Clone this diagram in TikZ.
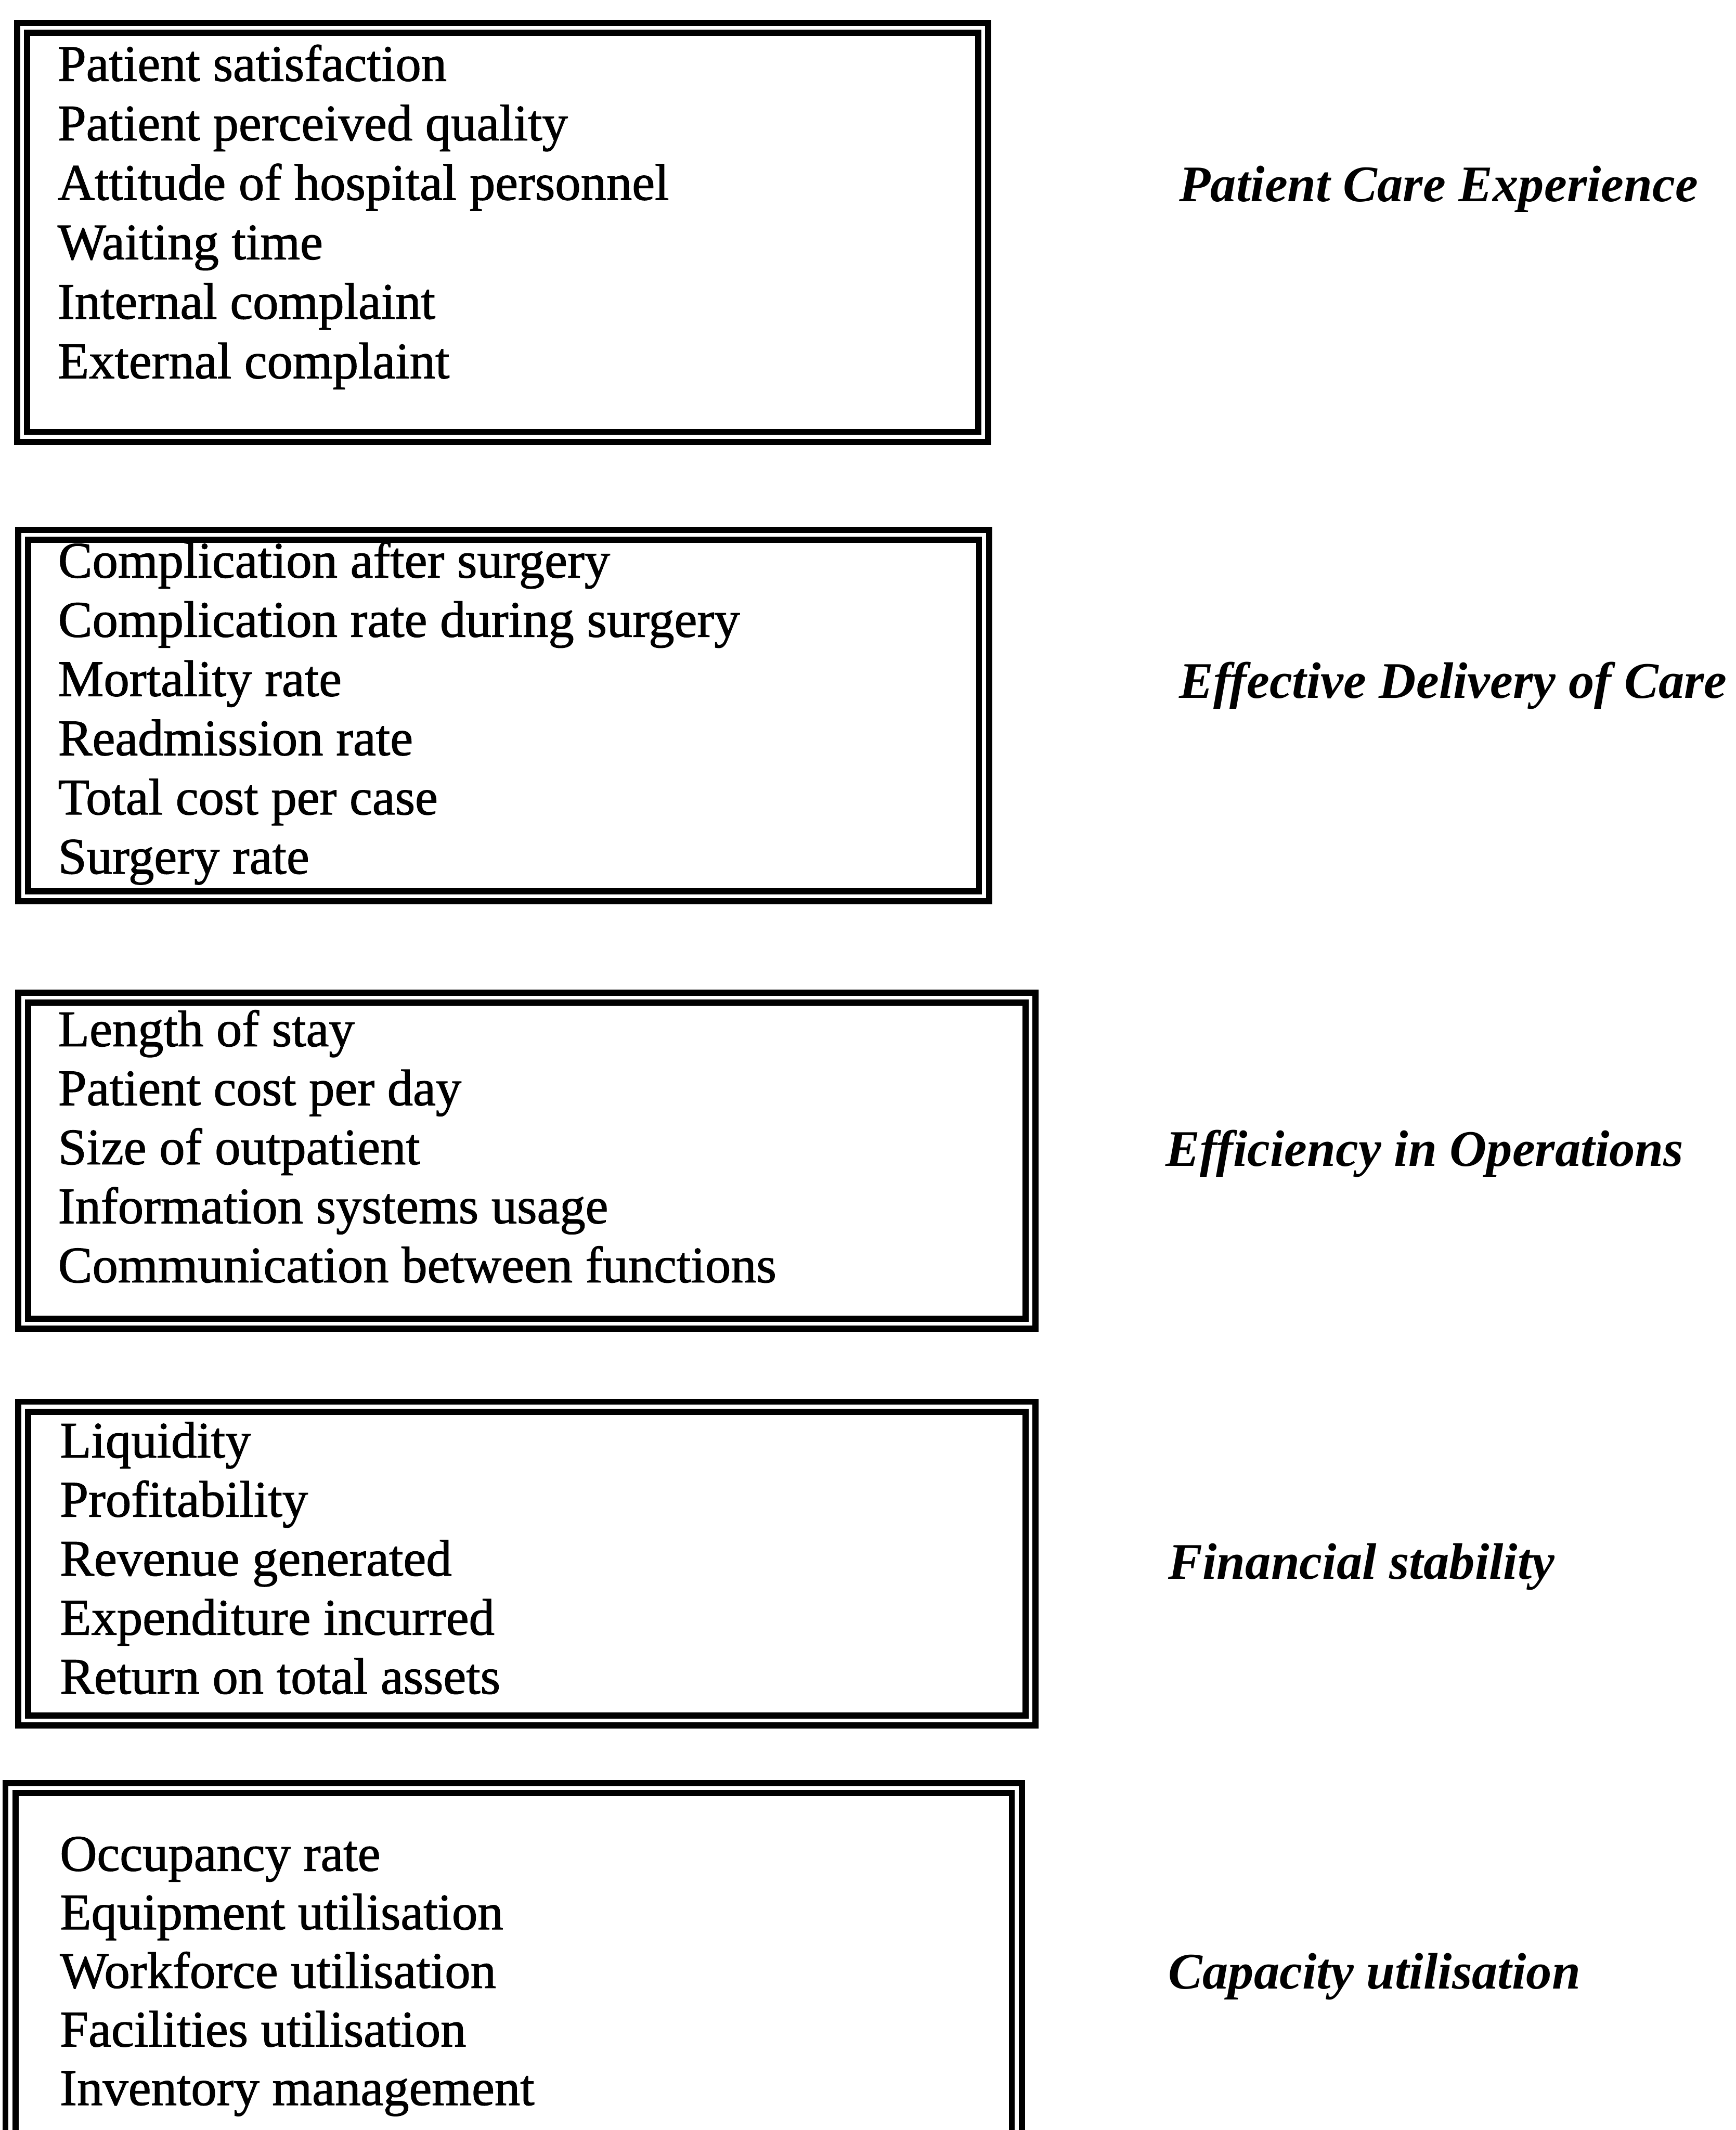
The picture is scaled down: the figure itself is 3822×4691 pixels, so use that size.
\documentclass[tikz,border=0pt]{standalone}
\usepackage{fontspec}
\setmainfont{Liberation Serif}
\newfontfamily\inkfont{Liberation Serif}[FakeBold=1.2]
\begin{document}
\begin{tikzpicture}[x=0.1pt,y=-0.1pt,
  frame/.style={line width=1.35pt, line join=miter},
  item/.style={anchor=base west, inner sep=0pt, font=\fontsize{11.3}{13}\inkfont},
  dimlabel/.style={anchor=base west, inner sep=0pt, font=\fontsize{11.3}{13}\bfseries\itshape}]
% page area
\useasboundingbox (0,0) rectangle (3822,4691);
\clip (0,0) rectangle (3822,4691);
% double-ruled frame: outer edges x1,y1,x2,y2
\newcommand\doubleframe[4]{%
  \draw[frame] ({#1+7},{#2+7}) rectangle ({#3-7},{#4-7});
  \draw[frame] ({#1+29},{#2+29}) rectangle ({#3-29},{#4-29});}
\doubleframe{31}{43}{2183}{980}
\doubleframe{33}{1160}{2185}{1992}
\doubleframe{33}{2179}{2287}{2933}
\doubleframe{33}{3080}{2287}{3807}
\doubleframe{5}{3920}{2257}{4800}
% indicator lists
\foreach \t [count=\i] in {Patient satisfaction, Patient perceived quality,
    Attitude of hospital personnel, Waiting time, Internal complaint, External complaint}
  \node[item] (pce-\i) at (125,{178+(\i-1)*131}) {\t};
\foreach \t [count=\i] in {Complication after surgery, Complication rate during surgery,
    Mortality rate, Readmission rate, Total cost per case, Surgery rate}
  \node[item] (edc-\i) at (126,{1272+(\i-1)*130.4}) {\t};
\foreach \t [count=\i] in {Length of stay, Patient cost per day, Size of outpatient,
    Information systems usage, Communication between functions}
  \node[item] (eio-\i) at (126,{2304+(\i-1)*130}) {\t};
\foreach \t [count=\i] in {Liquidity, Profitability, Revenue generated,
    Expenditure incurred, Return on total assets}
  \node[item] (fin-\i) at (130,{3210+(\i-1)*130}) {\t};
\foreach \t [count=\i] in {Occupancy rate, Equipment utilisation, Workforce utilisation,
    Facilities utilisation, Inventory management}
  \node[item] (cap-\i) at (130,{4120+(\i-1)*129}) {\t};
% dimension labels
\node[dimlabel] (lab-pce) at (2595,444) {Patient Care Experience};
\node[dimlabel] (lab-edc) at (2595,1537) {Effective Delivery of Care};
\node[dimlabel] (lab-eio) at (2565,2568) {Efficiency in Operations};
\node[dimlabel] (lab-fin) at (2571,3477) {Financial stability};
\node[dimlabel] (lab-cap) at (2571,4380) {Capacity utilisation};
\end{tikzpicture}
\end{document}
